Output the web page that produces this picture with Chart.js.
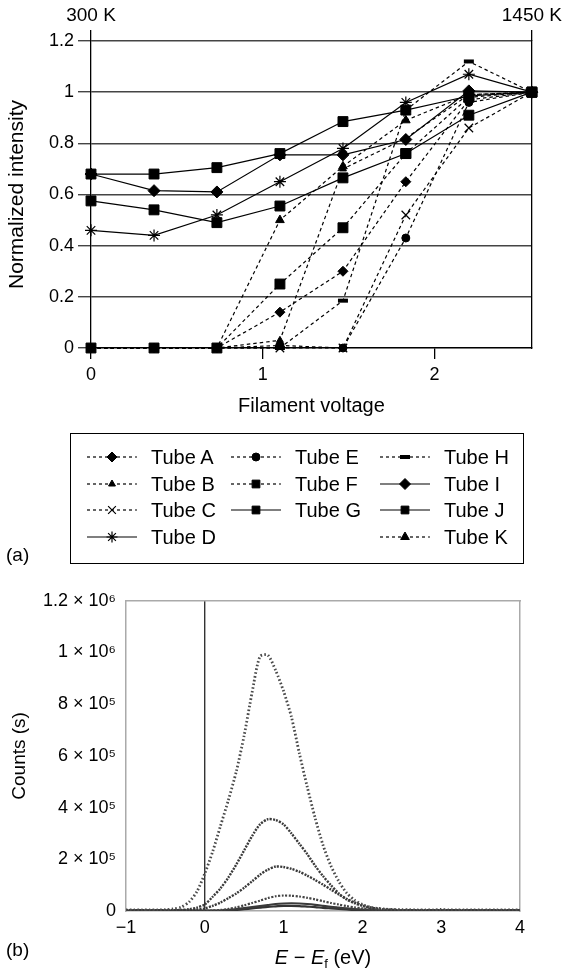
<!DOCTYPE html>
<html>
<head>
<meta charset="utf-8">
<script src="https://cdn.jsdelivr.net/npm/chart.js@4.4.1/dist/chart.umd.min.js"></script>
<style>
  body { margin: 0; background: #fff; width: 565px; height: 970px; position: relative; overflow: hidden;
         font-family: "Liberation Sans", Arial, sans-serif; color: #000; }
  #chartA { position: absolute; left: 0; top: 0; }
  #chartB { position: absolute; left: 0; top: 580px; }
  #legendBox { position: absolute; left: 70px; top: 433px; width: 454px; height: 131px;
               box-sizing: border-box; border: 1.5px solid #000; }
  .item { position: absolute; height: 26px; display: flex; align-items: center; font-size: 20px; white-space: nowrap; }
  .item canvas { margin-right: 14px; }
  .panel { position: absolute; left: 6px; font-size: 19px; line-height: 22px; }
  #titleB { position: absolute; left: 213px; width: 220px; top: 945px; text-align: center; font-size: 20px; line-height: 24px; }
  #titleB sub { font-size: 13px; vertical-align: -4px; }
</style>
</head>
<body>
<canvas id="chartA" width="565" height="420"></canvas>
<div id="legendBox"></div>
<div class="panel" style="top:544px">(a)</div>
<canvas id="chartB" width="565" height="390"></canvas>
<div class="panel" style="top:939px">(b)</div>
<div id="titleB"><i>E</i> − <i>E</i><sub>f</sub> (eV)</div>

<script>
// ---- panel (a): normalized intensity vs filament voltage ----
const filamentVoltage = [0, 0.367, 0.733, 1.1, 1.467, 1.833, 2.2, 2.567];
const tubeNames = ['Tube A', 'Tube B', 'Tube C', 'Tube D', 'Tube E', 'Tube F',
                   'Tube G', 'Tube H', 'Tube I', 'Tube J', 'Tube K'];
const tubeA = [0, 0, 0, 0.14, 0.30, 0.65, 0.97, 1.0];
const tubeB = [0, 0, 0, 0.03, 0.70, 0.82, 0.99, 1.0];
const tubeC = [0, 0, 0, 0, 0, 0.52, 0.86, 1.0];
const tubeD = [0.46, 0.44, 0.52, 0.65, 0.78, 0.96, 1.07, 1.0];
const tubeE = [0, 0, 0, 0.01, 0, 0.43, 0.96, 1.0];
const tubeF = [0, 0, 0, 0.25, 0.47, 0.76, 0.98, 1.0];
const tubeG = [0.68, 0.68, 0.705, 0.76, 0.885, 0.93, 0.985, 1.0];
const tubeH = [0, 0, 0, 0, 0.185, 0.93, 1.12, 1.0];
const tubeI = [0.68, 0.615, 0.61, 0.755, 0.755, 0.815, 1.005, 1.0];
const tubeJ = [0.575, 0.54, 0.49, 0.555, 0.665, 0.76, 0.91, 1.0];
const tubeK = [0, 0, 0, 0.50, 0.71, 0.89, 0.99, 1.0];
const voltageTicks = [0, 1, 2];
const intensityTicks = [0, 0.2, 0.4, 0.6, 0.8, 1, 1.2];
const temperatureLabels = ['300 K', '1450 K'];

// ---- panel (b): counts vs E - Ef ----
const energyEv = [-1.0, -0.9, -0.8, -0.7, -0.6, -0.5, -0.4, -0.3, -0.2, -0.1,
  0.0, 0.1, 0.2, 0.3, 0.4, 0.5, 0.6, 0.7, 0.8, 0.9,
  1.0, 1.1, 1.2, 1.3, 1.4, 1.5, 1.6, 1.7, 1.8, 1.9,
  2.0, 2.1, 2.2, 2.3, 2.4, 2.5, 2.6, 2.7, 2.8, 2.9,
  3.0, 3.1, 3.2, 3.3, 3.4, 3.5, 3.6, 3.7, 3.8, 3.9, 4.0];
const counts1 = [4e3, 4e3, 4e3, 4e3, 4e3, 5e3, 8e3, 15e3, 35e3, 75e3,
  145e3, 230e3, 330e3, 430e3, 540e3, 680e3, 845e3, 985e3, 990e3, 930e3,
  850e3, 750e3, 610e3, 480e3, 360e3, 255e3, 175e3, 115e3, 70e3, 42e3,
  25e3, 15e3, 10e3, 7e3, 6e3, 5e3, 5e3, 4e3, 4e3, 4e3,
  6e3, 4e3, 4e3, 4e3, 4e3, 4e3, 4e3, 4e3, 4e3, 4e3, 4e3];
const counts2 = [3e3, 3e3, 3e3, 3e3, 3e3, 3e3, 3e3, 4e3, 7e3, 13e3,
  25e3, 55e3, 88e3, 130e3, 180e3, 235e3, 290e3, 335e3, 355e3, 352e3,
  335e3, 300e3, 260e3, 220e3, 175e3, 135e3, 100e3, 68e3, 45e3, 30e3,
  20e3, 12e3, 8e3, 5e3, 4e3, 3e3, 3e3, 3e3, 3e3, 3e3,
  3e3, 3e3, 3e3, 3e3, 3e3, 3e3, 3e3, 3e3, 3e3, 3e3, 3e3];
const counts3 = [3e3, 3e3, 3e3, 3e3, 3e3, 3e3, 3e3, 3e3, 3e3, 5e3,
  10e3, 20e3, 33e3, 50e3, 68e3, 90e3, 115e3, 140e3, 160e3, 172e3,
  170e3, 163e3, 152e3, 137e3, 120e3, 102e3, 83e3, 64e3, 47e3, 33e3,
  22e3, 14e3, 9e3, 6e3, 4e3, 3e3, 3e3, 3e3, 3e3, 3e3,
  3e3, 3e3, 3e3, 3e3, 3e3, 3e3, 3e3, 3e3, 3e3, 3e3, 3e3];
const counts4 = [2e3, 2e3, 2e3, 2e3, 2e3, 2e3, 2e3, 2e3, 2e3, 2e3,
  2e3, 2e3, 4e3, 8e3, 14e3, 22e3, 31e3, 40e3, 50e3, 57e3,
  60e3, 59e3, 56e3, 51e3, 45e3, 38e3, 31e3, 25e3, 19e3, 14e3,
  10e3, 7e3, 5e3, 3e3, 2e3, 2e3, 2e3, 2e3, 2e3, 2e3,
  2e3, 2e3, 2e3, 2e3, 2e3, 2e3, 2e3, 2e3, 2e3, 2e3, 2e3];
const counts5 = [2e3, 2e3, 2e3, 2e3, 2e3, 2e3, 2e3, 2e3, 2e3, 2e3,
  2e3, 2e3, 2e3, 4e3, 7e3, 11e3, 15e3, 19e3, 23e3, 27e3,
  29e3, 30e3, 29e3, 27e3, 24e3, 20e3, 16e3, 13e3, 10e3, 7e3,
  5e3, 4e3, 2e3, 2e3, 2e3, 2e3, 2e3, 2e3, 2e3, 2e3,
  2e3, 2e3, 2e3, 2e3, 2e3, 2e3, 2e3, 2e3, 2e3, 2e3, 2e3];
const counts6 = [1e3, 1e3, 1e3, 1e3, 1e3, 1e3, 1e3, 1e3, 1e3, 1e3,
  1e3, 1e3, 1e3, 1e3, 4e3, 7e3, 10e3, 13e3, 16e3, 18e3,
  20e3, 20e3, 19e3, 17e3, 15e3, 12e3, 10e3, 8e3, 6e3, 4e3,
  3e3, 1e3, 1e3, 1e3, 1e3, 1e3, 1e3, 1e3, 1e3, 1e3,
  1e3, 1e3, 1e3, 1e3, 1e3, 1e3, 1e3, 1e3, 1e3, 1e3, 1e3];
const energyTicks = [-1, 0, 1, 2, 3, 4];
const countTicks = [0, 2e5, 4e5, 6e5, 8e5, 1e6, 1.2e6];
const countTickLabels = ['0', '2 × 10⁵', '4 × 10⁵', '6 × 10⁵', '8 × 10⁵', '1 × 10⁶', '1.2 × 10⁶'];

const FONT = '"Liberation Sans", Arial, "DejaVu Sans", sans-serif';
Chart.defaults.font.family = FONT;
Chart.defaults.color = '#000';

// marker / dash per tube (same order as tubeNames)
const tubeStyles = [
  { marker: 'rectRot', r: 5, dashed: true, bw: 1 },
  { marker: 'triangle', r: 4, dashed: true, bw: 1 },
  { marker: 'crossRot', r: 6, dashed: true, bw: 1.2 },
  { marker: 'star', r: 6, dashed: false, bw: 1.2 },
  { marker: 'circle', r: 4, dashed: true, bw: 1 },
  { marker: 'rect', r: 7, dashed: true, bw: 1 },
  { marker: 'rect', r: 7, dashed: false, bw: 1 },
  { marker: 'line', r: 5, dashed: true, bw: 4 },
  { marker: 'rectRot', r: 6, dashed: false, bw: 1 },
  { marker: 'rect', r: 7, dashed: false, bw: 1 },
  { marker: 'triangle', r: 5, dashed: true, bw: 1 }
];
const tubeValues = [tubeA, tubeB, tubeC, tubeD, tubeE, tubeF, tubeG, tubeH, tubeI, tubeJ, tubeK];
const xMax = filamentVoltage[filamentVoltage.length - 1];

const chartA = new Chart(document.getElementById('chartA').getContext('2d'), {
  type: 'line',
  data: {
    datasets: tubeValues.map((values, i) => ({
      label: tubeNames[i],
      data: values.map((v, j) => ({ x: filamentVoltage[j], y: v })),
      borderColor: '#000',
      backgroundColor: '#000',
      borderWidth: 1.2,
      borderDash: tubeStyles[i].dashed ? [3.5, 3] : [],
      tension: 0,
      clip: false,
      pointStyle: tubeStyles[i].marker,
      pointRadius: tubeStyles[i].r,
      pointBorderWidth: tubeStyles[i].bw,
      pointBackgroundColor: '#000',
      pointBorderColor: '#000'
    }))
  },
  options: {
    responsive: false,
    animation: false,
    layout: { padding: 0 },
    plugins: { legend: { display: false }, tooltip: { enabled: false } },
    scales: {
      x: {
        type: 'linear', position: 'bottom', min: 0, max: xMax,
        afterBuildTicks: s => { s.ticks = voltageTicks.map(v => ({ value: v })); },
        afterFit: s => { s.height = 72; },
        grid: { drawOnChartArea: false, tickLength: 11, tickColor: '#000', lineWidth: 1.3 },
        border: { display: true, color: '#000', width: 1.3 },
        ticks: { padding: 5, maxRotation: 0, font: { size: 18 }, callback: v => String(v) },
        title: { display: true, text: 'Filament voltage', font: { size: 20 }, padding: { top: 0, bottom: 2 } }
      },
      xTop: {
        type: 'linear', position: 'top', min: 0, max: xMax,
        afterBuildTicks: s => { s.ticks = [0, xMax].map(v => ({ value: v })); },
        afterFit: s => { s.height = 41; },
        grid: { drawOnChartArea: false, tickLength: 11, tickColor: '#000', lineWidth: 1.3 },
        border: { display: false },
        ticks: { padding: 3, maxRotation: 0, font: { size: 19 }, callback: (v, i) => temperatureLabels[i] }
      },
      y: {
        min: 0, max: 1.2,
        afterBuildTicks: s => { s.ticks = intensityTicks.map(v => ({ value: v })); },
        afterFit: s => { s.width = 91; },
        grid: { color: '#444', lineWidth: 1.4, tickLength: 13 },
        border: { display: true, color: '#000', width: 1.3 },
        ticks: { padding: 4, font: { size: 18 }, callback: v => String(v) },
        title: { display: true, text: 'Normalized intensity', font: { size: 21 }, padding: { top: 5, bottom: 0 } }
      },
      yRight: {
        position: 'right', min: 0, max: 1.2,
        afterFit: s => { s.width = 31; },
        ticks: { display: false },
        grid: { drawOnChartArea: false, drawTicks: false },
        border: { display: true, color: '#000', width: 1.3 }
      }
    }
  }
});

// html legend built from the chart's datasets: 3 columns of 4, 3, 4 entries
const legendColumns = [4, 3, 4];
const columnLeft = [16, 160, 309];
const rowTop = [10, 37, 63, 90];
const legendBox = document.getElementById('legendBox');
let idx = 0;
legendColumns.forEach((count, c) => {
  for (let r = 0; r < count; r++, idx++) {
    const ds = chartA.data.datasets[idx];
    const item = document.createElement('div');
    item.className = 'item';
    item.style.left = columnLeft[c] + 'px';
    item.style.top = rowTop[r] + 'px';
    const cv = document.createElement('canvas');
    cv.width = 50; cv.height = 20;
    const ctx = cv.getContext('2d');
    ctx.strokeStyle = '#000'; ctx.fillStyle = '#000';
    ctx.lineWidth = 1.2;
    ctx.setLineDash(ds.borderDash.length ? [3, 3] : []);
    ctx.beginPath(); ctx.moveTo(0, 10); ctx.lineTo(50, 10); ctx.stroke();
    ctx.setLineDash([]);
    ctx.lineWidth = ds.pointBorderWidth;
    if (Chart.helpers && Chart.helpers.drawPoint) {
      Chart.helpers.drawPoint(ctx, { pointStyle: ds.pointStyle, radius: Math.min(ds.pointRadius, 5.5), borderWidth: ds.pointBorderWidth, rotation: 0 }, 25, 10);
    } else {
      ctx.beginPath(); ctx.arc(25, 10, 4, 0, Math.PI * 2); ctx.fill();
    }
    const span = document.createElement('span');
    span.textContent = ds.label;
    item.appendChild(cv); item.appendChild(span);
    legendBox.appendChild(item);
  }
});

// ---- chart (b) ----
const countSeries = [counts1, counts2, counts3, counts4, counts5, counts6];
const countStyles = [
  { color: '#4a4a4a', width: 2.8, dash: [1.6, 2.2] },
  { color: '#3a3a3a', width: 2.4, dash: [2, 1.2] },
  { color: '#3a3a3a', width: 2.4, dash: [2, 1.2] },
  { color: '#444', width: 2.2, dash: [2, 1.5] },
  { color: '#3a3a3a', width: 2.2, dash: [] },
  { color: '#333', width: 2.2, dash: [] }
];

new Chart(document.getElementById('chartB').getContext('2d'), {
  type: 'line',
  data: {
    datasets: countSeries.map((series, i) => ({
      label: 'curve ' + (i + 1),
      data: series.map((c, j) => ({ x: energyEv[j], y: c })),
      borderColor: countStyles[i].color,
      borderWidth: countStyles[i].width,
      borderDash: countStyles[i].dash,
      pointRadius: 0,
      tension: 0.25,
      fill: false
    }))
  },
  options: {
    responsive: false,
    animation: false,
    layout: { padding: { top: 17, right: 45, left: 0, bottom: 0 } },
    plugins: { legend: { display: false }, tooltip: { enabled: false } },
    scales: {
      x: {
        type: 'linear', min: -1, max: 4,
        afterBuildTicks: s => { s.ticks = energyTicks.map(v => ({ value: v })); },
        afterFit: s => { s.height = 59; },
        grid: {
          drawTicks: false, lineWidth: 1.4,
          color: ctx => (ctx.tick && ctx.tick.value === 0) ? '#333' : 'rgba(0,0,0,0)'
        },
        border: { display: true, color: '#aaa', width: 1.5 },
        ticks: { padding: 6, maxRotation: 0, font: { size: 18 }, callback: v => v < 0 ? '−' + Math.abs(v) : String(v) }
      },
      xTop: {
        type: 'linear', position: 'top', min: -1, max: 4,
        afterFit: s => { s.height = 0; },
        ticks: { display: false },
        grid: { drawOnChartArea: false, drawTicks: false },
        border: { display: true, color: '#aaa', width: 1.5 }
      },
      y: {
        min: 0, max: 1.2e6,
        afterBuildTicks: s => { s.ticks = countTicks.map(v => ({ value: v })); },
        afterFit: s => { s.width = 126; },
        grid: { display: false, drawTicks: false },
        border: { display: true, color: '#aaa', width: 1.5 },
        ticks: { padding: 10, font: { size: 18 }, callback: (v, i) => countTickLabels[i] },
        title: { display: true, text: 'Counts (s)', font: { size: 19 }, padding: { top: 8, bottom: 0 } }
      },
      yRight: {
        position: 'right', min: 0, max: 1.2e6,
        afterFit: s => { s.width = 0; },
        ticks: { display: false },
        grid: { drawOnChartArea: false, drawTicks: false },
        border: { display: true, color: '#aaa', width: 1.5 }
      }
    }
  }
});
</script>
</body>
</html>
